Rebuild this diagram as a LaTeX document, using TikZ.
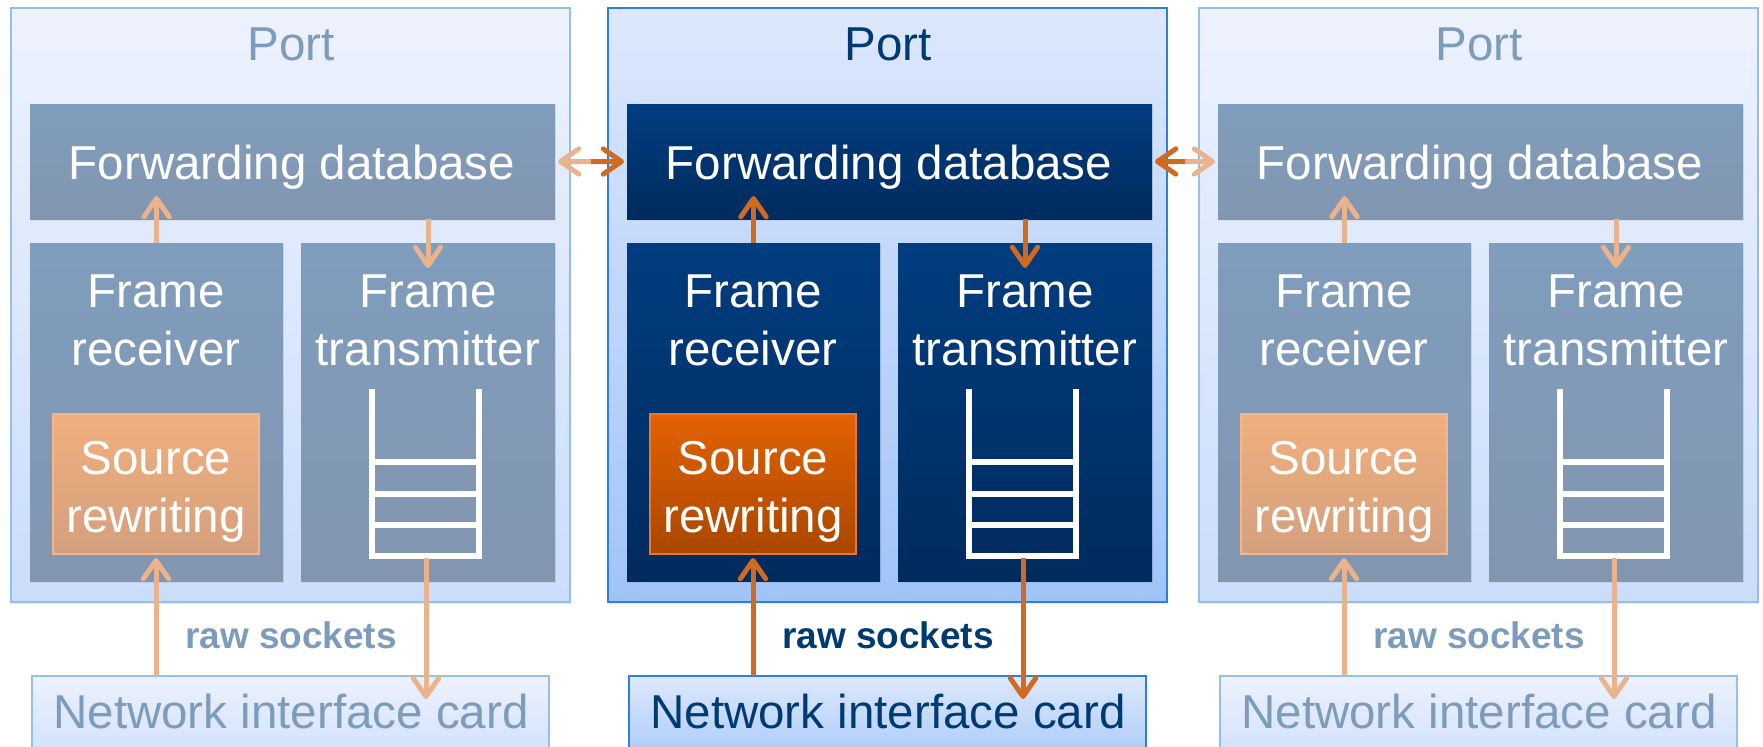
\documentclass[tikz,border=0pt]{standalone}
\usepackage{fontspec}
\setmainfont{Liberation Sans}
\usepackage{tikz}
\usetikzlibrary{arrows.meta,calc,shadows}
\usepackage{xcolor}
\definecolor{dimPortTop}{RGB}{237,242,253}
\definecolor{dimPortBot}{RGB}{202,221,251}
\definecolor{dimPortLine}{RGB}{149,191,234}
\definecolor{actPortTop}{RGB}{221,232,252}
\definecolor{actPortBot}{RGB}{160,196,248}
\definecolor{actPortLine}{RGB}{47,128,216}
\definecolor{dimBoxTop}{RGB}{127,157,189}
\definecolor{dimBoxBot}{RGB}{130,150,176}
\definecolor{actBoxTop}{RGB}{2,61,128}
\definecolor{actBoxBot}{RGB}{0,43,94}
\definecolor{dimRewTop}{RGB}{241,175,125}
\definecolor{dimRewBot}{RGB}{212,160,127}
\definecolor{dimRewLine}{RGB}{243,182,141}
\definecolor{actRewTop}{RGB}{227,98,2}
\definecolor{actRewBot}{RGB}{169,71,0}
\definecolor{actRewLine}{RGB}{232,122,48}
\definecolor{dimArrow}{RGB}{233,179,142}
\definecolor{actArrow}{RGB}{207,106,32}
\definecolor{dimText}{RGB}{125,155,186}
\definecolor{actText}{RGB}{0,58,114}
\newcommand{\pxu}{0.025cm}
\newcommand{\bigtext}{\fontsize{33.8}{41.3}\selectfont}

\begin{document}
\begin{tikzpicture}[x=0.025cm,y=-0.025cm,
  portbox/.style={rectangle,top color=#1PortTop,bottom color=#1PortBot,draw=#1PortLine,
    line width=2.5*\pxu,anchor=north west,inner sep=0pt,outer sep=0pt,
    drop shadow={opacity=0.15,shadow xshift=0.8pt,shadow yshift=-1.5pt}},
  innerbox/.style={rectangle,top color=#1BoxTop,bottom color=#1BoxBot,
    anchor=north west,inner sep=0pt,outer sep=0pt,
    drop shadow={opacity=0.12,shadow xshift=0.6pt,shadow yshift=-1.2pt}},
  rewbox/.style={rectangle,top color=#1RewTop,bottom color=#1RewBot,draw=#1RewLine,
    line width=2*\pxu,anchor=north west,inner sep=0pt,outer sep=0pt},
  wtxt/.style={text=white,font=\bigtext,align=center,inner sep=0pt},
  lbl/.style={text=#1Text,font=\bigtext,inner sep=0pt,anchor=base},
  socket/.style={text=#1Text,font=\fontsize{26.3}{30}\selectfont\bfseries,inner sep=0pt,anchor=base},
  arr/.style={draw=#1Arrow,line width=5*\pxu,-{Straight Barb[length=13pt,width=18pt,round]}},
  queue/.style={draw=white,line width=5.5*\pxu}]
  \useasboundingbox (0,0) rectangle (1763,746);
  \clip (0,0) rectangle (1763,746);
  % three ports, the middle one highlighted
  \foreach \ox/\id/\md in {11/a/dim,608/b/act,1199/c/dim}{
    \node[portbox=\md,minimum width=559*\pxu,minimum height=594*\pxu] (port\id) at (\ox,8) {};
    \node[lbl=\md] (portlbl\id) at (\ox+280,60) {Port};
    \node[innerbox=\md,minimum width=525*\pxu,minimum height=115*\pxu] (db\id) at (\ox+19,104) {};
    \node[wtxt,anchor=base] (dbtxt\id) at (\ox+281,179) {Forwarding database};
    \node[innerbox=\md,minimum width=253*\pxu,minimum height=338*\pxu] (rx\id) at (\ox+19,243) {};
    \node[innerbox=\md,minimum width=254*\pxu,minimum height=338*\pxu] (tx\id) at (\ox+290,243) {};
    \node[wtxt] (rxtxt\id) at (\ox+145,320) {Frame\\receiver};
    \node[wtxt] (txtxt\id) at (\ox+417,320) {Frame\\transmitter};
    \node[rewbox=\md,minimum width=206*\pxu,minimum height=140*\pxu] (rw\id) at (\ox+42,414) {};
    \node[wtxt] (rwtxt\id) at (\ox+145,492) {Source\\rewriting};
    % queue
    \draw[queue] (\ox+361,389) -- (\ox+361,556) -- (\ox+468,556) -- (\ox+468,389);
    \foreach \qy in {462,494,525} \draw[queue] (\ox+361,\qy) -- (\ox+468,\qy);
    \coordinate (qb\id) at (\ox+415,558);
    \node[portbox=\md,minimum width=517*\pxu,minimum height=100*\pxu] (nic\id) at (\ox+21,676) {};
    \node[lbl=\md] (nictxt\id) at (\ox+280,728) {Network interface card};
    \node[socket=\md] (sock\id) at (\ox+280,648) {raw sockets};
    % arrows inside the port
    \draw[arr=\md] (rx\id.north) -- ($(rx\id.north |- db\id.south)+(0,-23)$);
    \draw[arr=\md] (db\id.south -| tx\id.north) -- ($(tx\id.north)+(0,25)$);
    \draw[arr=\md] (nic\id.north -| rw\id.south) -- ($(rw\id.south)+(0,4)$);
    \draw[arr=\md] (qb\id) -- ($(nic\id.north -| qb\id)+(0,23)$);
  }
  % links between the forwarding databases
  \coordinate (ab) at ($(dba.east)!0.5!(dbb.west)$);
  \draw[arr=dim,shorten >=3*\pxu] (ab) -- (dba.east);
  \draw[arr=act,shorten >=3*\pxu] (ab) -- (dbb.west);
  \coordinate (bc) at ($(dbb.east)!0.5!(dbc.west)$);
  \draw[arr=act,shorten >=3*\pxu] (bc) -- (dbb.east);
  \draw[arr=dim,shorten >=3*\pxu] (bc) -- (dbc.west);
\end{tikzpicture}
\end{document}
